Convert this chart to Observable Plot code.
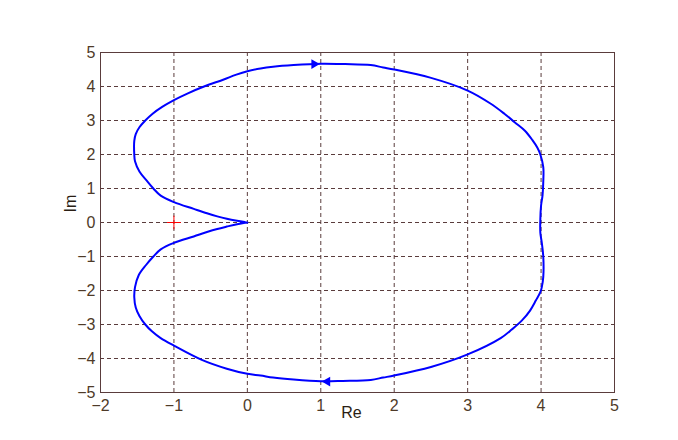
<!DOCTYPE html>
<html>
<head>
<meta charset="utf-8">
<script src="https://cdn.jsdelivr.net/npm/d3@7"></script>
<script src="https://cdn.jsdelivr.net/npm/@observablehq/plot@0.6"></script>
<style>
  html, body { margin: 0; padding: 0; background: #fff; }
  #chart { width: 678px; height: 440px; }
</style>
</head>
<body>
<div id="chart"></div>
<script>
// Nyquist curve, in traversal order (Re, Im)
const curveRe = [0, -0.03, -0.14, -0.28, -0.41, -0.55, -0.73, -1.0, -1.18, -1.28, -1.37, -1.47, -1.53, -1.54, -1.54, -1.52, -1.47, -1.39, -1.29, -1.16, -1.0, -0.81, -0.59, -0.33, -0.15, 0, 0.18, 0.35, 0.63, 1.0, 1.33, 1.68, 1.85, 2.0, 2.49, 3.0, 3.31, 3.50, 3.64, 3.78, 3.88, 3.95, 3.99, 4.03, 4.03, 4.02, 4.0, 3.99, 3.99, 4.01, 4.03, 4.03, 4.01, 3.99, 3.93, 3.85, 3.74, 3.6, 3.45, 3.0, 2.5, 2.0, 1.85, 1.68, 1.3, 1.0, 0.63, 0.35, 0.18, 0, -0.28, -0.62, -1.0, -1.18, -1.30, -1.39, -1.47, -1.52, -1.54, -1.53, -1.48, -1.38, -1.28, -1.18, -1.0, -0.73, -0.55, -0.41, -0.28, -0.14, -0.03, 0];
const curveIm = [0, 0.01, 0.05, 0.11, 0.18, 0.27, 0.40, 0.60, 0.79, 1.0, 1.23, 1.5, 1.8, 2.0, 2.4, 2.6, 2.8, 3.0, 3.2, 3.4, 3.6, 3.8, 4.0, 4.2, 4.35, 4.45, 4.53, 4.58, 4.63, 4.67, 4.66, 4.63, 4.56, 4.5, 4.26, 3.88, 3.5, 3.2, 2.95, 2.7, 2.43, 2.2, 2.0, 1.63, 1.2, 0.8, 0.5, 0.1, -0.3, -0.6, -1.0, -1.6, -1.9, -2.05, -2.29, -2.59, -2.88, -3.15, -3.4, -3.88, -4.25, -4.5, -4.56, -4.63, -4.66, -4.67, -4.62, -4.56, -4.5, -4.45, -4.3, -4.04, -3.62, -3.4, -3.2, -3.0, -2.75, -2.5, -2.2, -1.9, -1.55, -1.25, -1.0, -0.79, -0.60, -0.41, -0.28, -0.19, -0.12, -0.05, -0.01, 0];

// direction arrows on the curve
const arrowRe = [0.91, 1.09];
const arrowIm = [4.66, -4.68];
const arrowDir = [90, -90];

// critical point
const critRe = [-1];
const critIm = [0];

const xTicks = [-2, -1, 0, 1, 2, 3, 4, 5];
const yTicks = [-5, -4, -3, -2, -1, 0, 1, 2, 3, 4, 5];
const xLabel = "Re";
const yLabel = "Im";

const curve = curveRe.map((re, i) => ({re, im: curveIm[i]}));
const arrows = arrowRe.map((re, i) => ({re, im: arrowIm[i], dir: arrowDir[i]}));
const crit = critRe.map((re, i) => ({re, im: critIm[i]}));

const axisColor = "#5a3c3c";
const textColor = "#4e3a28";

const chart = Plot.plot({
  width: 678,
  height: 440,
  marginLeft: 100,
  marginRight: 64,
  marginTop: 52,
  marginBottom: 48,
  style: {fontFamily: "'Liberation Sans', Arial, sans-serif", fontSize: "16px", color: textColor, background: "#fff"},
  x: {domain: [-2, 5], label: null},
  y: {domain: [-5, 5], label: null},
  marks: [
    Plot.gridX(xTicks, {stroke: axisColor, strokeOpacity: 1, strokeDasharray: "4,3"}),
    Plot.gridY(yTicks, {stroke: axisColor, strokeOpacity: 1, strokeDasharray: "4,3"}),
    Plot.axisX(xTicks, {tickSize: 0, tickPadding: 7, fontSize: 16, fill: textColor}),
    Plot.axisY(yTicks, {tickSize: 0, tickPadding: 5, fontSize: 16, fill: textColor}),
    Plot.frame({stroke: axisColor, strokeWidth: 1}),
    Plot.line(curve, {x: "re", y: "im", stroke: "#0000ff", strokeWidth: 2, curve: "catmull-rom"}),
    Plot.dot(arrows, {x: "re", y: "im", symbol: "triangle", rotate: "dir", r: 3.6, fill: "#0000ff", stroke: "none"}),
    Plot.dot(crit, {x: "re", y: "im", symbol: "plus", r: 4.5, stroke: "#ff0000", strokeWidth: 1}),
    Plot.text([xLabel], {text: d => d, frameAnchor: "bottom", dx: -6, dy: 14, lineAnchor: "top", fontSize: 16, fill: "#2a1e14"}),
    Plot.text([yLabel], {text: d => d, frameAnchor: "left", dx: -30, dy: -10, rotate: -90, fontSize: 16, fill: "#2a1e14"})
  ]
});
document.getElementById("chart").appendChild(chart);
</script>
</body>
</html>
